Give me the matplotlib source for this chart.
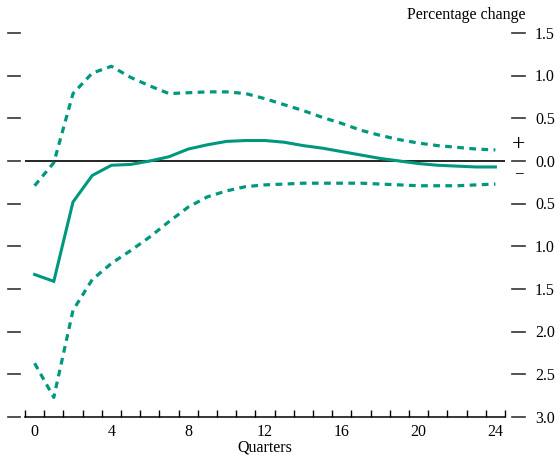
import matplotlib.pyplot as plt
import matplotlib.transforms as mtransforms

quarters = list(range(25))

central = [-1.33, -1.41, -0.48, -0.17, -0.05, -0.04, 0.00, 0.05, 0.14, 0.19,
           0.23, 0.24, 0.24, 0.22, 0.18, 0.15, 0.11, 0.07, 0.03, 0.00,
           -0.03, -0.05, -0.06, -0.07, -0.07]
upper = [-0.29, -0.02, 0.79, 1.03, 1.11, 0.98, 0.88, 0.79, 0.80, 0.81,
         0.81, 0.79, 0.73, 0.66, 0.59, 0.51, 0.44, 0.36, 0.30, 0.25,
         0.21, 0.18, 0.16, 0.14, 0.13]
lower = [-2.37, -2.77, -1.75, -1.39, -1.20, -1.05, -0.89, -0.71, -0.54, -0.42,
         -0.35, -0.30, -0.28, -0.27, -0.26, -0.26, -0.26, -0.26, -0.27, -0.28,
         -0.29, -0.29, -0.29, -0.28, -0.27]

y_ticks = [1.5, 1.0, 0.5, 0.0, -0.5, -1.0, -1.5, -2.0, -2.5, -3.0]
x_labels = [0, 4, 8, 12, 16, 20, 24]

teal = "#00977f"
plt.rcParams["font.family"] = ["Liberation Serif", "DejaVu Serif"]

W, H = 560, 458
fig = plt.figure(figsize=(W / 100, H / 100), dpi=100)
ax = fig.add_axes([25 / W, (H - 417) / H, 480 / W, 384 / H])
ax.set_xlim(-0.5, 24.5)
ax.set_ylim(-3.0, 1.5)

ax.axhline(0, color="black", lw=1.2, zorder=1)
ax.plot(quarters, central, color=teal, lw=2.2, solid_joinstyle="miter", zorder=3)
for band in (upper, lower):
    ax.plot(quarters, band, color=teal, lw=2.3, dashes=(2.1, 1.7), zorder=3)

for s in ("top", "left", "right"):
    ax.spines[s].set_visible(False)
ax.spines["bottom"].set_linewidth(1.1)
ax.set_yticks([])
ax.set_xticks(x_labels)
ax.set_xticklabels([str(v) for v in x_labels], fontsize=11.5)
ax.set_xticks([q - 0.5 for q in quarters] + [24.5], minor=True)
ax.tick_params(axis="x", which="major", length=0, pad=5)
ax.tick_params(axis="x", which="minor", direction="in", length=5, width=1.0)
ax.set_xlabel("Quarters", fontsize=11.5, labelpad=0)

trans = mtransforms.blended_transform_factory(ax.transAxes, ax.transData)
for v in y_ticks:
    ax.plot([-0.0354, -0.0104], [v, v], transform=trans, color="#333333",
            lw=1.2, clip_on=False)
    ax.plot([1.0146, 1.0417], [v, v], transform=trans, color="#333333",
            lw=1.2, clip_on=False)
    ax.text(1.0625, v - 0.02, f"{abs(v):.1f}", transform=trans, fontsize=11.5,
            va="center", ha="left")
ax.text(1.0285, 0.19, "+", transform=trans, fontsize=17, ha="center",
        va="center")
ax.text(1.0285, -0.15, "\u2212", transform=trans, fontsize=12, ha="center",
        va="center")
ax.text(1.042, 1.62, "Percentage change", transform=trans, fontsize=11.5,
        ha="right", va="bottom")

fig.savefig("out.png", dpi=100)
